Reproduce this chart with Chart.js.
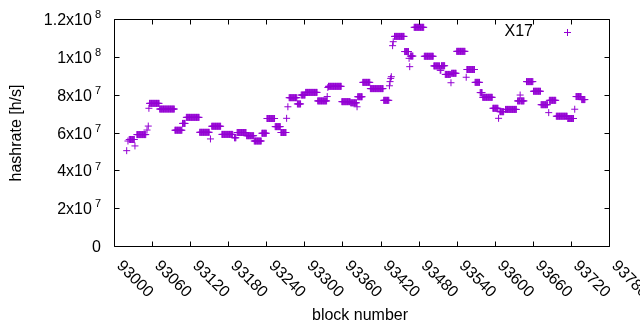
<!DOCTYPE html>
<html>
<head>
<meta charset="utf-8">
<script src="https://cdn.jsdelivr.net/npm/chart.js@4.4.1/dist/chart.umd.min.js"></script>
<style>
  html, body { margin: 0; padding: 0; background: #fff; }
  canvas { display: block; }
</style>
</head>
<body>
<canvas id="chart" width="640" height="330"></canvas>
<script>
// Runs of blocks that share the same hashrate (first block, last block, hashrate in 10^6 h/s)
const runFirst = [93020, 93022, 93024, 93033, 93036, 93052, 93054, 93055, 93056, 93072,
    93096, 93108, 93114, 93135, 93152, 93154, 93170, 93190, 93194, 93209,
    93221, 93233, 93241, 93254, 93263, 93272, 93274, 93276, 93289, 93295,
    93302, 93321, 93336, 93337, 93338, 93359, 93373, 93383, 93384, 93392,
    93404, 93425, 93434, 93435, 93436, 93437, 93439, 93440, 93442, 93458,
    93465, 93466, 93467, 93473, 93489, 93504, 93514, 93516, 93522, 93531,
    93532, 93540, 93555, 93556, 93569, 93577, 93581, 93597, 93606, 93608,
    93617, 93636, 93640, 93641, 93650, 93661, 93673, 93685, 93686, 93697,
    93715, 93726, 93728, 93737];
const runLast = [93020, 93022, 93032, 93033, 93050, 93052, 93054, 93055, 93071, 93095,
    93107, 93112, 93134, 93150, 93152, 93168, 93187, 93192, 93208, 93220,
    93232, 93240, 93253, 93262, 93271, 93272, 93274, 93288, 93294, 93301,
    93320, 93335, 93336, 93337, 93358, 93372, 93382, 93383, 93391, 93403,
    93424, 93433, 93434, 93435, 93436, 93437, 93439, 93440, 93457, 93464,
    93465, 93466, 93471, 93488, 93503, 93513, 93515, 93521, 93530, 93531,
    93539, 93553, 93555, 93568, 93576, 93580, 93596, 93605, 93606, 93614,
    93634, 93639, 93640, 93646, 93660, 93672, 93683, 93685, 93696, 93714,
    93724, 93726, 93736, 93742];
const runRate = [50.4, 55.5, 56.3, 52.9, 58.9, 61.3, 63.4, 72.8, 75.4, 72.4,
    61.2, 64.8, 68.0, 60.1, 56.6, 63.3, 59.0, 57.2, 60.0, 58.3,
    55.5, 59.6, 67.4, 63.1, 60.0, 67.5, 73.6, 78.4, 75.1, 79.8,
    81.2, 76.7, 79.0, 83.8, 84.4, 76.3, 75.7, 73.6, 78.9, 86.5,
    83.2, 77.0, 84.7, 86.9, 88.6, 89.5, 105.9, 108.0, 110.8, 102.8,
    99.2, 94.8, 100.4, 115.6, 100.3, 95.2, 92.9, 95.3, 90.7, 86.3,
    91.3, 102.9, 89.2, 93.3, 86.5, 81.1, 78.6, 72.8, 67.5, 71.0,
    72.2, 76.7, 79.8, 76.7, 86.9, 81.8, 74.7, 70.5, 77.0, 68.6,
    67.4, 72.3, 79.0, 77.4];

const seriesLabel = "X17";
const yTickBase = ["0", "2x10", "4x10", "6x10", "8x10", "1x10", "1.2x10"];
const yTickExp = ["", "7", "7", "7", "7", "8", "8"];

const COLOR = "#9400d3";
const FONT = '"Liberation Sans", Arial, sans-serif';
const TICK = 5;

const points = [];
runFirst.forEach((first, i) => {
    for (let b = first; b <= runLast[i]; b++) {
        points.push({ x: b, y: runRate[i] * 1e6 });
    }
});

const drawCross = (ctx, x, y, r) => {
    ctx.beginPath();
    ctx.moveTo(x - r, y);
    ctx.lineTo(x + r, y);
    ctx.moveTo(x, y - r);
    ctx.lineTo(x, y + r);
    ctx.stroke();
};

// gnuplot-like frame: box, inward mirrored tics, rotated x labels, superscript y labels
const gnuplotFrame = {
    id: "gnuplotFrame",
    afterDraw(chart) {
        const { ctx, chartArea: a, scales: { x, y } } = chart;
        const L = Math.round(a.left) + 0.5;
        const R = Math.round(a.right) + 0.5;
        const T = Math.round(a.top) + 0.5;
        const B = Math.round(a.bottom) + 0.5;
        ctx.save();
        ctx.strokeStyle = "#000";
        ctx.lineWidth = 1;
        ctx.beginPath();
        ctx.rect(L, T, R - L, B - T);
        x.ticks.forEach((t) => {
            const px = Math.round(x.getPixelForValue(t.value)) + 0.5;
            ctx.moveTo(px, B); ctx.lineTo(px, B - TICK);
            ctx.moveTo(px, T); ctx.lineTo(px, T + TICK);
        });
        y.ticks.forEach((t) => {
            const py = Math.round(y.getPixelForValue(t.value)) + 0.5;
            ctx.moveTo(L, py); ctx.lineTo(L + TICK, py);
            ctx.moveTo(R, py); ctx.lineTo(R - TICK, py);
        });
        ctx.stroke();

        ctx.fillStyle = "#000";
        // y tick labels
        y.ticks.forEach((t, i) => {
            const py = y.getPixelForValue(t.value);
            const base = yTickBase[i] || "";
            const exp = yTickExp[i] || "";
            ctx.font = "16px " + FONT;
            const wb = ctx.measureText(base).width;
            ctx.font = "11px " + FONT;
            const we = exp ? ctx.measureText(exp).width + 3 : 0;
            const start = 101 - wb - we;
            ctx.textAlign = "left";
            ctx.textBaseline = "alphabetic";
            ctx.font = "16px " + FONT;
            ctx.fillText(base, start, py + 6);
            if (exp) {
                ctx.font = "11px " + FONT;
                ctx.fillText(exp, start + wb + 3, py - 0.7);
            }
        });

        // x tick labels rotated by -45 degrees (gnuplot sense)
        ctx.font = "16px " + FONT;
        ctx.textAlign = "left";
        ctx.textBaseline = "middle";
        x.ticks.forEach((t) => {
            const px = x.getPixelForValue(t.value);
            ctx.save();
            ctx.translate(px + 5, B + 17);
            ctx.rotate(Math.PI / 4);
            ctx.fillText(String(t.value), 0, 0);
            ctx.restore();
        });

        // axis titles
        ctx.textAlign = "center";
        ctx.fillText("block number", 360, 316);
        ctx.save();
        ctx.translate(17, 133);
        ctx.rotate(-Math.PI / 2);
        ctx.fillText("hashrate [h/s]", 0, 0);
        ctx.restore();

        // key
        ctx.textAlign = "right";
        ctx.fillText(seriesLabel, 533, 32);
        ctx.strokeStyle = COLOR;
        drawCross(ctx, 567.5, 32.5, 3.5);
        ctx.restore();
    },
};

new Chart(document.getElementById("chart"), {
    type: "scatter",
    data: {
        datasets: [
            {
                label: seriesLabel,
                data: points,
                pointStyle: "cross",
                pointRadius: 3.5,
                pointHoverRadius: 3.5,
                borderColor: COLOR,
                backgroundColor: COLOR,
                borderWidth: 1,
            },
        ],
    },
    options: {
        responsive: false,
        animation: false,
        events: [],
        layout: { padding: { left: 0, top: 19, right: 31, bottom: 0 } },
        plugins: { legend: { display: false }, tooltip: { enabled: false } },
        scales: {
            x: {
                type: "linear",
                min: 93000,
                max: 93780,
                ticks: { display: false, stepSize: 60 },
                grid: { display: false },
                border: { display: false },
                afterFit: (scale) => { scale.height = 84; },
            },
            y: {
                min: 0,
                max: 1.2e8,
                ticks: { display: false, stepSize: 2e7 },
                grid: { display: false },
                border: { display: false },
                afterFit: (scale) => { scale.width = 114; },
            },
        },
    },
    plugins: [gnuplotFrame],
});
</script>
</body>
</html>
